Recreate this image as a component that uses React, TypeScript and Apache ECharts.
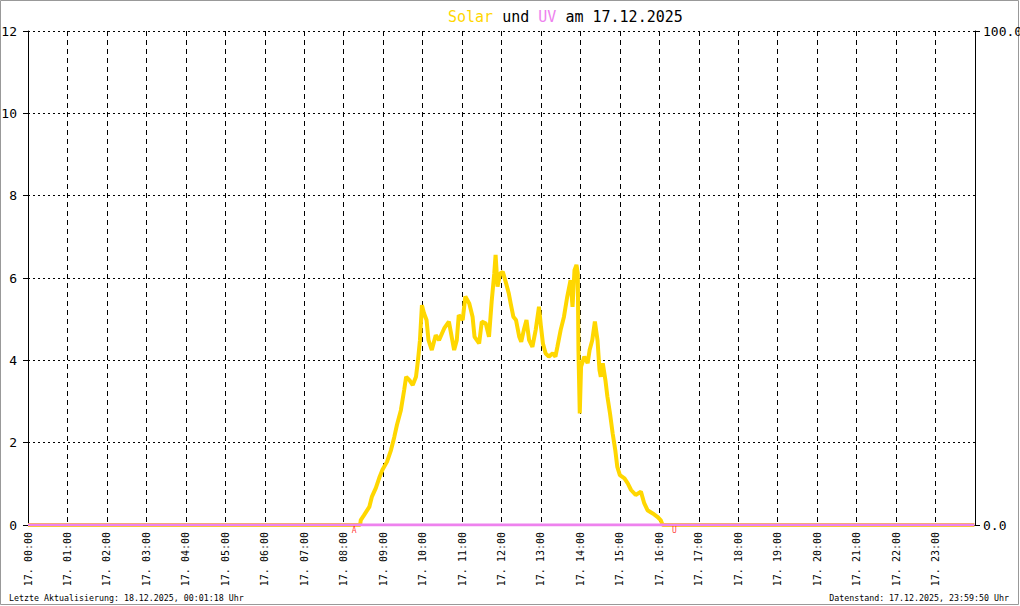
import React, { useEffect, useRef } from "react";
import * as echarts from "echarts";

const solarTimes = [
  "00:00", "08:25", "08:26", "08:31", "08:39", "08:43", "08:49", "08:54", "08:59", "09:06",
  "09:12", "09:17", "09:21", "09:27", "09:32", "09:35", "09:40", "09:45", "09:50", "09:53",
  "09:56", "09:59", "10:02", "10:06", "10:09", "10:14", "10:20", "10:25", "10:33", "10:40",
  "10:48", "10:52", "10:55", "11:01", "11:05", "11:11", "11:16", "11:19", "11:26", "11:30",
  "11:36", "11:41", "11:45", "11:49", "11:51", "11:54", "11:58", "12:02", "12:07", "12:11",
  "12:14", "12:18", "12:22", "12:27", "12:30", "12:34", "12:38", "12:42", "12:47", "12:52",
  "12:57", "13:00", "13:03", "13:07", "13:12", "13:18", "13:22", "13:25", "13:30", "13:35",
  "13:40", "13:45", "13:48", "13:51", "13:54", "13:56", "13:57", "13:59", "14:01", "14:06",
  "14:11", "14:14", "14:18", "14:22", "14:26", "14:29", "14:31", "14:34", "14:38", "14:41",
  "14:45", "14:49", "14:53", "14:56", "15:00", "15:07", "15:12", "15:17", "15:24", "15:32",
  "15:37", "15:42", "15:50", "15:57", "16:02", "16:05", "23:59",
];
const solarValues = [
  0, 0, 0.12, 0.24, 0.44, 0.69, 0.9, 1.14, 1.34, 1.54,
  1.82, 2.14, 2.43, 2.79, 3.28, 3.6, 3.52, 3.4, 3.6, 4.0,
  4.49, 5.34, 5.15, 4.98, 4.49, 4.25, 4.61, 4.49, 4.78, 4.94,
  4.25, 4.49, 5.1, 4.98, 5.55, 5.38, 5.06, 4.57, 4.41, 4.94,
  4.9, 4.57, 5.42, 6.11, 6.56, 5.79, 6.11, 6.15, 5.87, 5.63,
  5.38, 5.06, 4.98, 4.57, 4.45, 4.74, 4.98, 4.49, 4.33, 4.74,
  5.3, 4.82, 4.41, 4.17, 4.09, 4.17, 4.09, 4.33, 4.74, 5.06,
  5.55, 5.95, 5.3, 6.19, 6.32, 6.11, 4.25, 2.71, 3.85, 4.09,
  3.93, 4.25, 4.49, 4.94, 4.49, 3.76, 3.6, 3.93, 3.52, 3.12,
  2.71, 2.23, 1.82, 1.42, 1.21, 1.13, 1.01, 0.85, 0.73, 0.81,
  0.53, 0.36, 0.28, 0.2, 0.12, 0, 0,
];

const uvTimes = ["00:00", "23:59"];
const uvValues = [0, 0];

const sunTimes = ["08:16", "16:23"];
const sunLabels = ["A", "U"];

const leftTicks = { min: 0, max: 12, interval: 2 };
const rightTicks = { min: 0, max: 100, interval: 100 };

const dayPrefix = "17.";
const titleDate = "17.12.2025";
const footerLeft = "Letzte Aktualisierung: 18.12.2025, 00:01:18 Uhr";
const footerRight = "Datenstand: 17.12.2025, 23:59:50 Uhr";

const MONO = "'DejaVu Sans Mono', monospace";

const toMin = (s: string) => {
  const [h, m] = s.split(":").map(Number);
  return h * 60 + m;
};
const pad = (n: number) => (n < 10 ? "0" + n : "" + n);

export default function App() {
  const ref = useRef<HTMLDivElement>(null);
  useEffect(() => {
    if (!ref.current) return;
    const chart = echarts.init(ref.current, null, { renderer: "svg" });
    chart.setOption({
      animation: false,
      backgroundColor: "#ffffff",
      title: {
        text: "{s|Solar} {k|und} {u|UV} {k|am " + titleDate + "}",
        left: 443,
        top: 4,
        textStyle: {
          fontFamily: MONO,
          fontSize: 15,
          fontWeight: "normal",
          color: "#000",
          rich: {
            s: { color: "#FFD700", fontFamily: MONO, fontSize: 15 },
            u: { color: "#EE82EE", fontFamily: MONO, fontSize: 15 },
            k: { color: "#000", fontFamily: MONO, fontSize: 15 },
          },
        },
      },
      grid: { left: 28, right: 45, top: 31, bottom: 81, containLabel: false, outerBoundsMode: "none" },
      xAxis: {
        type: "value",
        min: 0,
        max: 1440,
        interval: 60,
        axisLine: { show: false },
        axisTick: { show: false },
        splitLine: { show: true, lineStyle: { color: "#000", type: [5, 4], width: 1 } },
        axisLabel: {
          rotate: 90,
          margin: 7,
          fontFamily: MONO,
          fontSize: 10,
          color: "#000",
          showMaxLabel: false,
          formatter: (v: number) => (v >= 1440 ? "" : dayPrefix + " " + pad(Math.floor(v / 60)) + ":00"),
        },
      },
      yAxis: [
        {
          type: "value",
          position: "left",
          min: leftTicks.min,
          max: leftTicks.max,
          interval: leftTicks.interval,
          axisLine: { show: true, lineStyle: { color: "#000", width: 1 } },
          axisTick: { show: true, length: 5, lineStyle: { color: "#000" } },
          splitLine: { show: true, lineStyle: { color: "#000", type: [2, 3], width: 1 } },
          axisLabel: { margin: 11, fontFamily: MONO, fontSize: 13, color: "#000" },
        },
        {
          type: "value",
          position: "right",
          min: rightTicks.min,
          max: rightTicks.max,
          interval: rightTicks.interval,
          axisLine: { show: true, lineStyle: { color: "#000", width: 1 } },
          axisTick: { show: true, length: 5, lineStyle: { color: "#000" } },
          splitLine: { show: false },
          axisLabel: {
            margin: 8,
            fontFamily: MONO,
            fontSize: 13,
            color: "#000",
            formatter: (v: number) => v.toFixed(1),
          },
        },
      ],
      series: [
        {
          name: "Solar",
          type: "line",
          yAxisIndex: 0,
          showSymbol: false,
          z: 2,
          lineStyle: { color: "#FFD700", width: 4 },
          itemStyle: { color: "#FFD700" },
          data: solarTimes.map((t, i) => [toMin(t), solarValues[i]]),
        },
        {
          name: "UV",
          type: "line",
          yAxisIndex: 1,
          showSymbol: false,
          z: 3,
          lineStyle: { color: "#EE82EE", width: 3 },
          itemStyle: { color: "#EE82EE" },
          data: uvTimes.map((t, i) => [toMin(t), uvValues[i]]),
        },
        {
          name: "Sonne",
          type: "scatter",
          yAxisIndex: 0,
          symbolSize: 1,
          z: 4,
          itemStyle: { color: "rgba(0,0,0,0)" },
          label: {
            show: true,
            position: "bottom",
            distance: 1,
            formatter: "{b}",
            color: "#FF0000",
            fontFamily: MONO,
            fontSize: 8,
          },
          data: sunTimes.map((t, i) => ({ name: sunLabels[i], value: [toMin(t), 0] })),
        },
      ],
      graphic: [
        {
          type: "rect",
          shape: { x: 0.5, y: 0.5, width: 1018, height: 604 },
          style: { fill: "none", stroke: "#999", lineWidth: 1 },
          silent: true,
        },
        {
          type: "text",
          left: 9,
          top: 594,
          style: { text: footerLeft, fontFamily: MONO, fontSize: 8.3, fill: "#000" },
        },
        {
          type: "text",
          right: 11,
          top: 594,
          style: { text: footerRight, fontFamily: MONO, fontSize: 8.3, fill: "#000" },
        },
      ],
    });
    return () => chart.dispose();
  }, []);
  return (
    <div
      ref={ref}
      style={{ position: "absolute", left: 0, top: 0, width: 1020, height: 606 }}
    />
  );
}
